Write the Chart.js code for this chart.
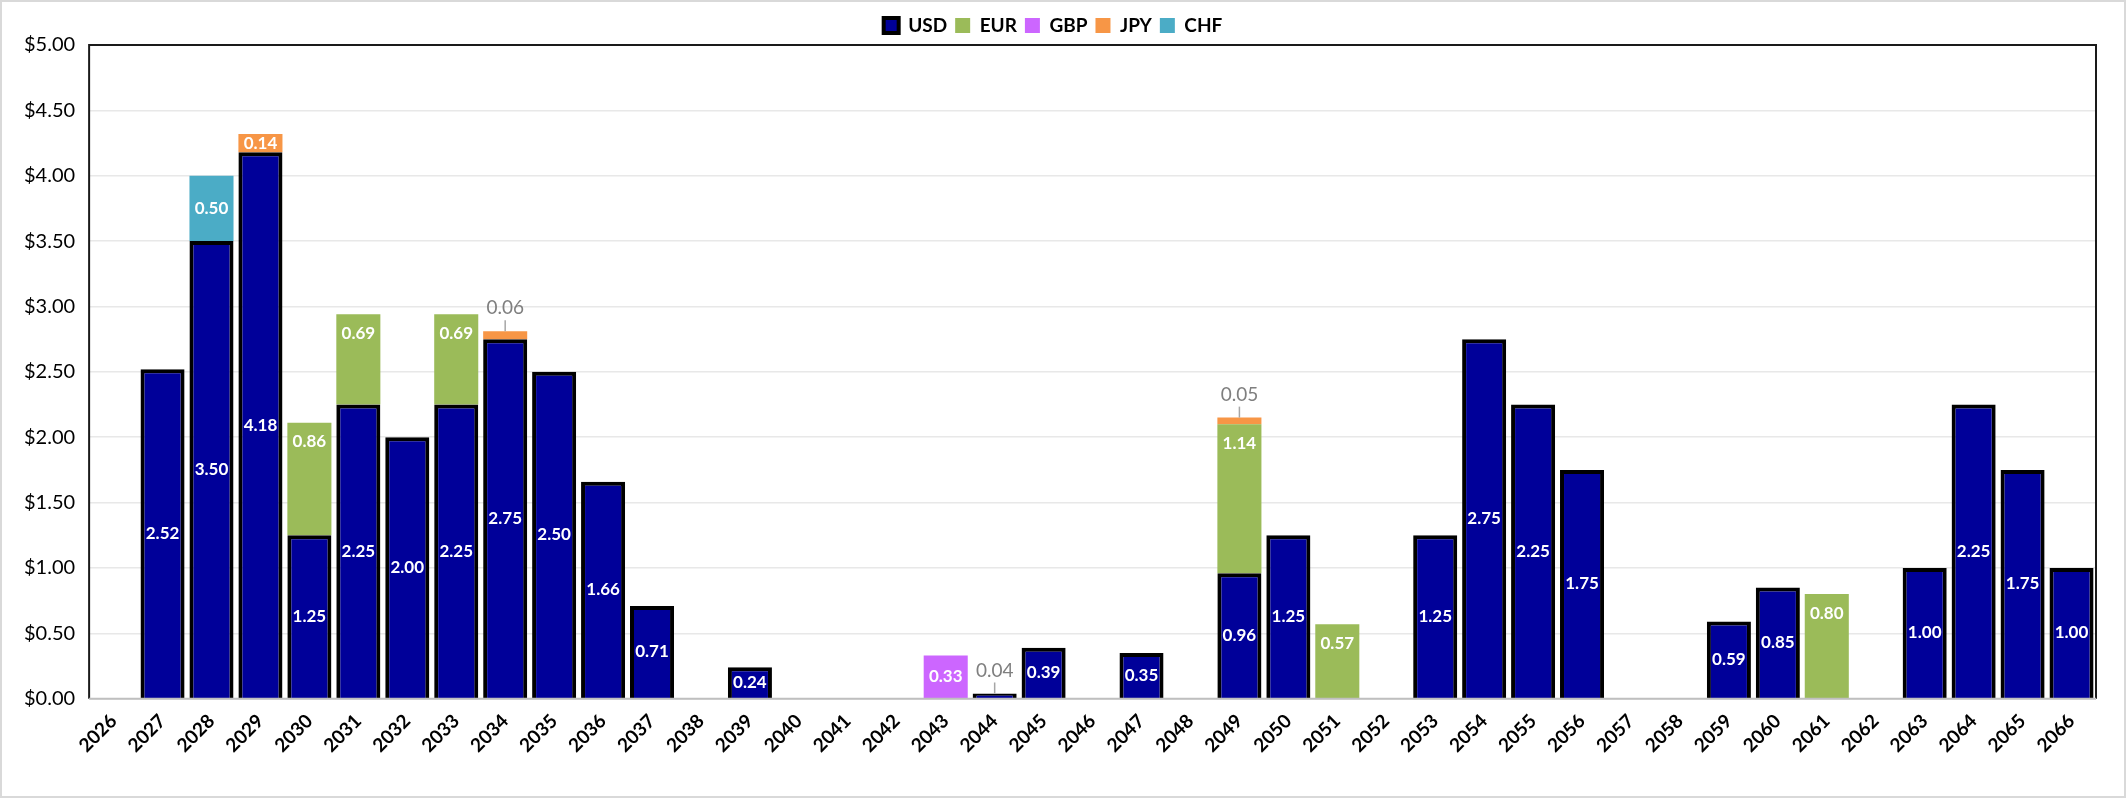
<!DOCTYPE html>
<html>
<head>
<meta charset="utf-8">
<script src="https://cdn.jsdelivr.net/npm/chart.js@4"></script>
<style>
  html, body { margin: 0; padding: 0; background: #fff; }
  #wrap { width: 2126px; height: 798px; box-sizing: border-box; border: 2px solid #d9d9d9; position: relative; }
</style>
</head>
<body>
<div id="wrap"><canvas id="payChart"></canvas></div>
<script>
// years on the x axis
const years = [];
for (let y = 2026; y <= 2066; y++) years.push(String(y));

// values per currency, one per year (0 = nothing)
const usd = [0, 2.52, 3.50, 4.18, 1.25, 2.25, 2.00, 2.25, 2.75, 2.50, 1.66, 0.71, 0, 0.24, 0, 0, 0, 0, 0.04, 0.39,
             0, 0.35, 0, 0.96, 1.25, 0, 0, 1.25, 2.75, 2.25, 1.75, 0, 0, 0.59, 0.85, 0, 0, 1.00, 2.25, 1.75, 1.00];
const eur = [0, 0, 0, 0, 0.86, 0.69, 0, 0.69, 0, 0, 0, 0, 0, 0, 0, 0, 0, 0, 0, 0,
             0, 0, 0, 1.14, 0, 0.57, 0, 0, 0, 0, 0, 0, 0, 0, 0, 0.80, 0, 0, 0, 0, 0];
const gbp = [0, 0, 0, 0, 0, 0, 0, 0, 0, 0, 0, 0, 0, 0, 0, 0, 0, 0.33, 0, 0,
             0, 0, 0, 0, 0, 0, 0, 0, 0, 0, 0, 0, 0, 0, 0, 0, 0, 0, 0, 0, 0];
const jpy = [0, 0, 0, 0.14, 0, 0, 0, 0, 0.06, 0, 0, 0, 0, 0, 0, 0, 0, 0, 0, 0,
             0, 0, 0, 0.05, 0, 0, 0, 0, 0, 0, 0, 0, 0, 0, 0, 0, 0, 0, 0, 0, 0];
const chf = [0, 0, 0.50, 0, 0, 0, 0, 0, 0, 0, 0, 0, 0, 0, 0, 0, 0, 0, 0, 0,
             0, 0, 0, 0, 0, 0, 0, 0, 0, 0, 0, 0, 0, 0, 0, 0, 0, 0, 0, 0, 0];

const yTicks = [0, 0.5, 1, 1.5, 2, 2.5, 3, 3.5, 4, 4.5, 5];

const FONT = "Lato, 'Open Sans', sans-serif";
Chart.defaults.font.family = FONT;
Chart.defaults.color = "#000";

// data labels (white inside, small ones grey above with a leader line)
const barLabels = {
    id: "barLabels",
    afterDatasetsDraw(chart) {
        const ctx = chart.ctx;
        ctx.save();
        chart.data.datasets.forEach((ds, di) => {
            const meta = chart.getDatasetMeta(di);
            meta.data.forEach((bar, i) => {
                const v = ds.data[i];
                if (!v) return;
                const txt = v.toFixed(2);
                ctx.textAlign = "center";
                ctx.textBaseline = "middle";
                if (v < 0.1) {
                    ctx.font = "19px " + FONT;
                    ctx.fillStyle = "#7f7f7f";
                    ctx.strokeStyle = "#a6a6a6";
                    ctx.lineWidth = 1.5;
                    ctx.beginPath();
                    ctx.moveTo(bar.x, bar.y);
                    ctx.lineTo(bar.x, bar.y - 11);
                    ctx.stroke();
                    ctx.fillText(txt, bar.x, bar.y - 23);
                    return;
                }
                ctx.font = "bold 17px " + FONT;
                ctx.fillStyle = "#fff";
                let y = (bar.y + bar.base) / 2;
                if (ds.label === "EUR") y = bar.y + 19;
                ctx.fillText(txt, bar.x, y);
            });
        });
        ctx.restore();
    },
};

// black frame round the plot area, grey base line
const frame = {
    id: "frame",
    afterDraw(chart) {
        const { ctx, chartArea: a } = chart;
        ctx.save();
        ctx.strokeStyle = "#1a1a1a";
        ctx.lineWidth = 2;
        ctx.beginPath();
        ctx.moveTo(a.left, a.bottom);
        ctx.lineTo(a.left, a.top);
        ctx.lineTo(a.right, a.top);
        ctx.lineTo(a.right, a.bottom);
        ctx.stroke();
        ctx.strokeStyle = "#bfbfbf";
        ctx.beginPath();
        ctx.moveTo(a.left, a.bottom);
        ctx.lineTo(a.right, a.bottom);
        ctx.stroke();
        ctx.restore();
    },
};

const common = { borderWidth: 0, barPercentage: 0.9, categoryPercentage: 1 };

new Chart(document.getElementById("payChart"), {
    type: "bar",
    data: {
        labels: years,
        datasets: [
            { label: "USD", data: usd, backgroundColor: "#000099", borderColor: "#000", borderWidth: 4, barPercentage: 0.9, categoryPercentage: 1 },
            { label: "EUR", data: eur, backgroundColor: "#9bbb59", ...common },
            { label: "GBP", data: gbp, backgroundColor: "#cc66ff", ...common },
            { label: "JPY", data: jpy, backgroundColor: "#f79646", ...common },
            { label: "CHF", data: chf, backgroundColor: "#4bacc6", ...common },
        ],
    },
    options: {
        responsive: true,
        maintainAspectRatio: false,
        animation: false,
        layout: { padding: { left: 8, right: 28, top: 6, bottom: 36 } },
        plugins: {
            legend: {
                position: "top",
                labels: {
                    boxWidth: 15,
                    boxHeight: 15,
                    padding: 8,
                    font: { size: 19, weight: "bold" },
                    color: "#000",
                },
            },
            tooltip: { enabled: false },
        },
        scales: {
            x: {
                stacked: true,
                grid: { display: false },
                border: { display: false },
                ticks: {
                    autoSkip: false,
                    maxRotation: 45,
                    minRotation: 45,
                    font: { size: 19, weight: "bold" },
                    color: "#000",
                },
            },
            y: {
                stacked: true,
                min: 0,
                max: 5,
                afterBuildTicks: (axis) => {
                    axis.ticks = yTicks.map((v) => ({ value: v }));
                },
                grid: { color: "#e8e8e8", lineWidth: 1.5, drawTicks: false },
                border: { display: false },
                ticks: {
                    padding: 14,
                    font: { size: 20 },
                    color: "#000",
                    callback: (value) => "$" + Number(value).toFixed(2),
                },
            },
        },
    },
    plugins: [barLabels, frame],
});
</script>
</body>
</html>
